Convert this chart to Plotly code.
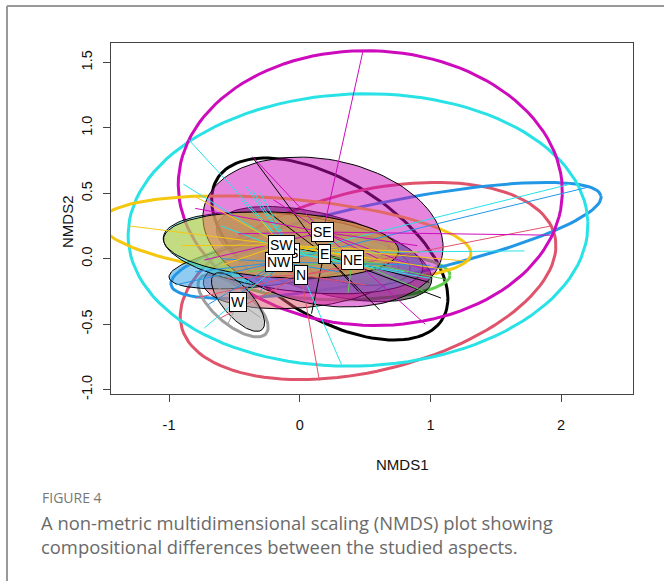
import numpy as np
import plotly.graph_objects as go

# ---------------- data ----------------
groups = ["E", "N", "NE", "NW", "S", "SE", "SW", "W"]
colors = ["#000000", "#DF536B", "#61D04F", "#2297E6", "#28E2E5", "#CD0BBC", "#F5C710", "#9E9E9E"]

# group centroids (label positions)
cent_x = [0.186, 0.010, 0.400, -0.158, -0.051, 0.178, -0.143, -0.472]
cent_y = [0.036, -0.125, -0.010, -0.025, 0.044, 0.204, 0.105, -0.331]

# site scores per group (spider end points)
pts_E = [(-0.35, 0.76), (-0.26, 0.37), (0.61, -0.39), (0.09, -0.42), (0.99, -0.18), (1.08, -0.30),
         (-0.10, 0.10), (0.45, -0.25)]
pts_N = [(0.15, -0.93), (1.92, 0.25), (-0.60, -0.45), (-0.80, -0.30), (0.75, -0.02), (-0.30, -0.05),
         (0.50, -0.20), (-0.55, -0.15)]
pts_NE = [(0.37, -0.26), (1.13, -0.16), (-0.40, -0.10), (0.00, 0.05), (0.70, -0.05), (0.95, -0.25)]
pts_NW = [(2.22, 0.55), (-0.95, -0.20), (-0.80, -0.10), (-0.50, -0.30), (-0.60, 0.00), (0.30, -0.10),
          (-0.30, -0.25), (-0.70, -0.35), (1.00, -0.05)]
pts_S = [(-0.85, 0.91), (-0.89, 0.57), (-0.41, 0.55), (-0.36, 0.52), (2.07, 0.57), (1.72, 0.06),
         (0.32, -0.81), (-0.73, -0.53), (1.00, -0.15), (-0.60, 0.25), (-0.30, 0.50), (0.80, -0.10),
         (-0.45, 0.45)]
pts_SE = [(0.484, 1.588), (-0.36, 0.78), (-0.80, 0.385), (-0.73, -0.01), (1.92, 0.18), (0.96, -0.50),
          (-0.47, 0.19), (0.60, 0.00), (-0.20, 0.45), (1.00, -0.10), (0.90, 0.10)]
pts_SW = [(-0.79, 0.47), (1.30, -0.02), (-1.30, 0.25), (-0.60, -0.05), (0.50, 0.00), (0.90, 0.05),
          (-0.30, 0.30), (-0.90, 0.10), (1.10, -0.08)]
pts_W = [(-0.65, -0.20), (-0.30, -0.45), (-0.55, -0.50), (-0.40, -0.25)]
site_pts = [pts_E, pts_N, pts_NE, pts_NW, pts_S, pts_SE, pts_SW, pts_W]

# enclosing (hull) ellipses: centre, semi-axes, rotation (deg)
hull_cx = [0.23, 0.523, 0.31, 0.66, 0.446, 0.54, -0.105, -0.51]
hull_cy = [0.074, -0.17, -0.125, 0.14, 0.22, 0.54, 0.158, -0.36]
hull_a = [1.015, 1.47, 0.84, 1.68, 1.76, 1.47, 1.42, 0.33]
hull_b = [0.52, 0.688, 0.19, 0.29, 1.04, 1.05, 0.30, 0.14]
hull_ang = [-32, 13.7, 0, 11.7, 2, -2, -4.9, -40]

# standard-deviation ellipses (filled), centred on centroids
sd_a = [0.85, 0.75, 0.45, 0.85, 1.00, 0.93, 0.90, 0.28]
sd_b = [0.30, 0.25, 0.18, 0.17, 0.29, 0.555, 0.25, 0.115]
sd_ang = [-15, 5, -10, 8, -7, -11, -3, -49]

x_ticks = [-1, 0, 1, 2]
x_ticktext = ["-1", "0", "1", "2"]
y_ticks = [-1.0, -0.5, 0.0, 0.5, 1.0, 1.5]
y_ticktext = ["-1.0", "-0.5", "0.0", "0.5", "1.0", "1.5"]


def ellipse(cx, cy, a, b, ang, n=120):
    t = np.linspace(0, 2 * np.pi, n)
    th = np.deg2rad(ang)
    x = cx + a * np.cos(t) * np.cos(th) - b * np.sin(t) * np.sin(th)
    y = cy + a * np.cos(t) * np.sin(th) + b * np.sin(t) * np.cos(th)
    return x, y


def rgba(hexc, alpha):
    h = hexc.lstrip("#")
    r, g, b = int(h[0:2], 16), int(h[2:4], 16), int(h[4:6], 16)
    return f"rgba({r},{g},{b},{alpha})"


fig = go.Figure()

# hull ellipses (thick outlines)
for i, g in enumerate(groups):
    x, y = ellipse(hull_cx[i], hull_cy[i], hull_a[i], hull_b[i], hull_ang[i])
    fig.add_trace(go.Scatter(x=x, y=y, mode="lines", line=dict(color=colors[i], width=3),
                             hoverinfo="skip", showlegend=False))

# filled sd ellipses
for i, g in enumerate(groups):
    x, y = ellipse(cent_x[i], cent_y[i], sd_a[i], sd_b[i], sd_ang[i])
    fig.add_trace(go.Scatter(x=x, y=y, mode="lines", fill="toself",
                             fillcolor=rgba(colors[i], 0.5),
                             line=dict(color="black", width=1),
                             hoverinfo="skip", showlegend=False))

# spiders
for i, g in enumerate(groups):
    xs, ys = [], []
    for (px, py) in site_pts[i]:
        xs += [cent_x[i], px, None]
        ys += [cent_y[i], py, None]
    fig.add_trace(go.Scatter(x=xs, y=ys, mode="lines", line=dict(color=colors[i], width=1),
                             hoverinfo="skip", showlegend=False))

# centroid labels
label_order = [0, 1, 2, 4, 3, 5, 6, 7]
for i in label_order:
    fig.add_annotation(x=cent_x[i], y=cent_y[i], text=groups[i], showarrow=False,
                       xanchor="center", yanchor="middle",
                       font=dict(family="Liberation Sans, Arial", size=14, color="black"),
                       bgcolor="white", bordercolor="black", borderwidth=1, borderpad=1)

W_PX, H_PX, L_PX, B_PX = 522, 351, 111, 394


def px_x(p):
    return (p - L_PX) / W_PX


def px_y(p):
    return (B_PX - p) / H_PX


# axis titles
fig.add_annotation(xref="paper", yref="paper", x=px_x(402), y=px_y(464),
                   xanchor="center", yanchor="middle", text="NMDS1", showarrow=False,
                   font=dict(family="Liberation Sans, Arial", size=15, color="#111"))
fig.add_annotation(xref="paper", yref="paper", x=px_x(67), y=px_y(222),
                   xanchor="center", yanchor="middle", text="NMDS2", showarrow=False, textangle=-90,
                   font=dict(family="Liberation Sans, Arial", size=15, color="#111"))

# caption
cap_font = "Open Sans"
fig.add_annotation(xref="paper", yref="paper", x=px_x(40), y=px_y(497),
                   xanchor="left", yanchor="middle", text="FIGURE 4", showarrow=False,
                   font=dict(family=cap_font, size=14, color="#777"))
fig.add_annotation(xref="paper", yref="paper", x=px_x(39), y=px_y(522),
                   xanchor="left", yanchor="middle",
                   text="A non-metric multidimensional scaling (NMDS) plot showing", showarrow=False,
                   font=dict(family=cap_font, size=18.4, color="#6a6a6a"))
fig.add_annotation(xref="paper", yref="paper", x=px_x(39), y=px_y(546),
                   xanchor="left", yanchor="middle",
                   text="compositional differences between the studied aspects.", showarrow=False,
                   font=dict(family=cap_font, size=18.4, color="#6a6a6a"))

# page frame lines (top and left)
fig.add_shape(type="line", xref="paper", yref="paper", x0=px_x(7), x1=px_x(664),
              y0=px_y(6), y1=px_y(6), line=dict(color="#999", width=2))
fig.add_shape(type="line", xref="paper", yref="paper", x0=px_x(7), x1=px_x(7),
              y0=px_y(6), y1=px_y(581), line=dict(color="#999", width=2))

axis_font = dict(family="Liberation Sans, Arial", size=14.5, color="#111")
fig.update_xaxes(range=[-1.444, 2.55], tickvals=x_ticks, ticktext=x_ticktext,
                 showgrid=False, zeroline=False, showline=True, mirror=True,
                 linecolor="#444", linewidth=1, ticks="outside", ticklen=7, tickcolor="#444",
                 tickfont=axis_font, ticklabelstandoff=11)
fig.update_yaxes(range=[-1.034, 1.649], tickvals=y_ticks, ticktext=y_ticktext,
                 showgrid=False, zeroline=False, showline=True, mirror=True,
                 linecolor="#444", linewidth=1, ticks="outside", ticklen=7, tickcolor="#444",
                 tickfont=axis_font, tickangle=-90, ticklabelstandoff=5)

fig.update_layout(width=664, height=581, margin=dict(l=111, r=31, t=43, b=187),
                  plot_bgcolor="white", paper_bgcolor="white", showlegend=False)

fig.write_html("out.html", config={"displayModeBar": False})
